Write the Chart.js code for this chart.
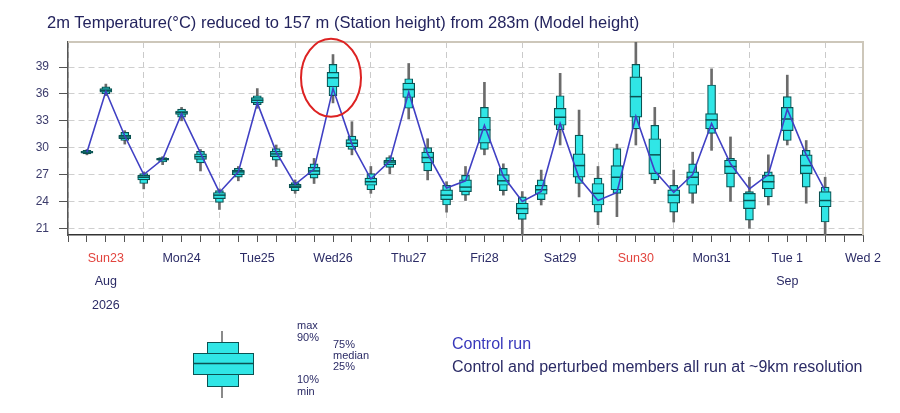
<!DOCTYPE html>
<html><head><meta charset="utf-8">
<script src="https://cdn.jsdelivr.net/npm/chart.js@4.4.1/dist/chart.umd.min.js"></script>
<style>
html,body{margin:0;padding:0;background:#fff;}
#wrap{position:relative;width:900px;height:413px;overflow:hidden;}
canvas{position:absolute;left:0;top:0;}
.t{position:absolute;font-family:"Liberation Sans",Arial,sans-serif;color:#2b2b66;white-space:nowrap;}
</style></head><body>
<div id="wrap">
<canvas id="c" width="900" height="413"></canvas>
<div class="t" id="title" style="left:47px;top:12px;font-size:16.5px;line-height:20px;color:#24245e"></div>
<div class="t" style="left:297px;top:319px;font-size:11px;line-height:12px">max<br>90%</div>
<div class="t" style="left:333px;top:339px;font-size:11px;line-height:11px">75%<br>median<br>25%</div>
<div class="t" style="left:297px;top:373px;font-size:11px;line-height:12px">10%<br>min</div>
<div class="t" style="left:452px;top:335px;font-size:16px;line-height:18px;color:#3838bb">Control run</div>
<div class="t" style="left:452px;top:358px;font-size:16px;line-height:18px;color:#2b2b66">Control and perturbed members all run at ~9km resolution</div>
</div>
<script>
// ---- data ----
const hours = [6,12,18,24,30,36,42,48,54,60,66,72,78,84,90,96,102,108,114,120,
               126,132,138,144,150,156,162,168,174,180,186,192,198,204,210,216,222,228,234,240];
const tMin = [29.2,35.8,30.4,25.4,28.1,33.0,27.4,23.1,26.3,34.4,27.9,24.9,26.0,35.0,29.2,24.9,27.1,33.2,26.4,22.8,
              24.1,29.2,24.7,20.2,23.6,30.3,24.5,21.4,22.3,30.3,26.0,21.7,23.8,29.7,24.0,21.0,23.6,30.3,23.8,20.2];
const tP10 = [29.3,36.0,30.8,26.0,28.4,33.4,28.3,23.9,26.7,34.8,28.6,25.2,26.6,35.8,29.8,25.3,27.8,34.4,27.4,23.6,
              24.7,29.8,25.2,22.0,24.2,32.0,26.0,22.8,24.9,32.1,26.4,22.8,24.9,31.6,25.6,21.9,24.5,30.8,25.6,21.7];
const tP25 = [29.4,36.2,31.0,26.4,28.6,33.7,28.7,24.3,27.0,35.0,29.0,25.5,27.0,36.8,30.1,25.8,28.1,35.6,28.3,24.2,
              25.1,30.5,25.8,22.6,24.8,32.5,26.7,23.6,25.3,33.4,27.1,23.8,25.8,32.1,27.1,23.2,25.4,31.9,27.1,23.4];
const tMed = [29.5,36.4,31.2,26.7,28.7,33.9,29.0,24.7,27.3,35.3,29.3,25.7,27.4,37.8,30.5,26.2,28.4,36.5,28.9,24.7,
              25.6,32.0,26.3,23.2,25.3,33.4,28.0,24.9,26.7,35.7,29.2,24.7,26.7,33.1,27.9,24.1,26.2,33.2,28.0,24.1];
const tP75 = [29.6,36.6,31.4,26.9,28.8,34.1,29.3,25.0,27.5,35.6,29.6,25.9,27.8,38.4,30.9,26.6,28.6,37.2,29.5,25.3,
              26.4,33.4,27.0,23.8,25.8,34.4,29.3,26.0,28.0,37.9,31.0,25.3,27.3,33.8,28.6,24.9,26.9,34.5,29.2,25.1];
const tP90 = [29.7,36.8,31.7,27.1,28.9,34.3,29.6,25.2,27.7,35.8,29.9,26.1,28.2,39.3,31.3,27.1,28.9,37.7,30.0,25.8,
              26.9,34.5,27.7,24.5,26.4,35.8,31.4,26.6,29.9,39.3,32.5,25.8,28.2,37.0,28.8,25.1,27.3,35.7,29.7,25.6];
const tMax = [29.8,37.1,31.9,27.3,29.0,34.5,29.8,25.4,27.9,36.6,30.3,26.4,28.8,40.4,32.9,27.9,29.1,39.4,31.0,26.2,
              27.9,37.3,28.2,25.1,27.5,38.3,34.2,27.9,30.4,41.8,34.5,27.5,29.5,38.8,31.2,26.7,29.2,38.1,30.8,26.7];
const control = [29.5,36.3,31.3,27.0,28.7,33.8,29.4,25.0,27.3,35.0,29.5,25.9,27.6,36.6,30.4,26.5,28.5,36.2,29.3,25.5,
                 26.3,32.5,26.8,24.0,25.1,32.7,26.6,24.1,25.0,33.5,27.4,25.0,27.0,32.7,28.2,25.4,27.0,34.3,29.2,25.2];
const yTicks = [21,24,27,30,33,36,39];
const dayLabels = ['Sun23','Mon24','Tue25','Wed26','Thu27','Fri28','Sat29','Sun30','Mon31','Tue 1','Wed 2'];
const sundayLabels = ['Sun23','Sun30'];
const monthLabels = [['Aug','2026'],['Sep']];
const monthLabelDays = [0, 9];
const highlightIndex = 13;   // circled box (Wed26 peak)
const titleText = '2m Temperature(\u00B0C) reduced to 157 m (Station height) from 283m (Model height)';
document.getElementById('title').textContent = titleText;

// ---- style ----
const FONT = '"Liberation Sans", Arial, sans-serif';
const NAVY = '#2b2b66';
const CYAN = '#30e6e6';
const TEAL = '#0b5252';

const rangeData = (lo, hi) => hours.map((h, i) => ({x: h, y: [lo[i], hi[i]]}));
const pointData = (v) => hours.map((h, i) => ({x: h, y: v[i]}));

const framePlugin = {
  id: 'frame',
  beforeDatasetsDraw(chart) {
    const {ctx, chartArea: a} = chart;
    ctx.save();
    ctx.strokeStyle = '#cdc7ba';
    ctx.lineWidth = 2;
    ctx.beginPath();
    ctx.moveTo(a.left, a.top); ctx.lineTo(a.right, a.top); ctx.lineTo(a.right, a.bottom);
    ctx.stroke();
    ctx.restore();
  },
  afterDraw(chart) {
    const ctx = chart.ctx;
    ctx.save();
    // red highlight ellipse around the circled box
    const xs = chart.scales.x, ys = chart.scales.y;
    const cx = xs.getPixelForValue(hours[highlightIndex]) - 2;
    const cy = ys.getPixelForValue((tMin[highlightIndex] + tMax[highlightIndex]) / 2) - 1;
    ctx.strokeStyle = '#dd2222'; ctx.lineWidth = 2;
    ctx.beginPath(); ctx.ellipse(cx, cy, 30, 39, 0, 0, Math.PI * 2); ctx.stroke();
    // key symbol of the box legend
    ctx.strokeStyle = '#8a8a8a'; ctx.lineWidth = 2;
    ctx.beginPath(); ctx.moveTo(222, 331); ctx.lineTo(222, 398); ctx.stroke();
    ctx.fillStyle = CYAN; ctx.strokeStyle = TEAL; ctx.lineWidth = 1;
    ctx.fillRect(207, 342, 31, 44); ctx.strokeRect(207.5, 342.5, 31, 44);
    ctx.fillRect(193, 353, 60, 21); ctx.strokeRect(193.5, 353.5, 60, 21);
    ctx.lineWidth = 1.5;
    ctx.beginPath(); ctx.moveTo(193, 363.5); ctx.lineTo(253, 363.5); ctx.stroke();
    ctx.restore();
  }
};

new Chart(document.getElementById('c'), {
  type: 'bar',
  data: {
    datasets: [
      {type: 'line', label: 'Control run', data: pointData(control), borderColor: '#4040c4',
       borderWidth: 1.6, pointRadius: 0, tension: 0, order: 0},
      {type: 'scatter', label: 'median', data: pointData(tMed), pointStyle: 'line', pointRadius: 6,
       borderColor: TEAL, borderWidth: 1.5, order: 1},
      {type: 'bar', label: '25-75%', data: rangeData(tP25, tP75), barThickness: 12, grouped: false,
       backgroundColor: CYAN, borderColor: TEAL, borderWidth: 1.2, borderSkipped: false, order: 2},
      {type: 'bar', label: '10-90%', data: rangeData(tP10, tP90), barThickness: 8, grouped: false,
       backgroundColor: CYAN, borderColor: TEAL, borderWidth: 1.2, borderSkipped: false, order: 3},
      {type: 'bar', label: 'min-max', data: rangeData(tMin, tMax), barThickness: 2, grouped: false,
       backgroundColor: '#6b6b6b', borderWidth: 0, order: 4}
    ]
  },
  options: {
    responsive: false,
    animation: false,
    devicePixelRatio: 1,
    layout: {padding: {left: 0, right: 37, top: 42, bottom: 0}},
    plugins: {
      legend: {display: false},
      tooltip: {enabled: false},
      title: {display: false}
    },
    scales: {
      x: {
        type: 'linear', position: 'bottom', min: 0, max: 252, offset: false, weight: 0,
        afterBuildTicks: s => { const t = []; for (let h = 0; h <= 252; h += 6) t.push({value: h}); s.ticks = t; },
        afterFit: s => { s.height = 34; },
        grid: {offset: false, lineWidth: 1, tickLength: 7, tickColor: '#555',
               color: c => (c.tick && c.tick.value % 24 === 0) ? '#cacaca' : 'rgba(0,0,0,0)'},
        border: {color: '#333', width: 1.5, dash: [6, 4]},
        ticks: {autoSkip: false, maxRotation: 0, minRotation: 0, padding: 9,
                font: {family: FONT, size: 12.5},
                color: c => sundayLabels.includes(dayLabels[(c.tick.value - 12) / 24]) ? '#e2443e' : NAVY,
                callback: v => (v % 24 === 12) ? dayLabels[(v - 12) / 24] : ''}
      },
      x2: {
        type: 'linear', position: 'bottom', min: 0, max: 252, offset: false, weight: 1,
        afterBuildTicks: s => { s.ticks = monthLabelDays.map(d => ({value: 12 + 24 * d})); },
        afterFit: s => { s.height = 144; },
        grid: {display: false, drawTicks: false},
        border: {display: false},
        ticks: {autoSkip: false, maxRotation: 0, minRotation: 0, padding: 1,
                font: {family: FONT, size: 12.5, lineHeight: '23.5px'}, color: NAVY,
                callback: v => monthLabels[monthLabelDays.indexOf((v - 12) / 24)]}
      },
      y: {
        type: 'linear', min: 20.25, max: 41.8,
        afterBuildTicks: s => { s.ticks = yTicks.map(v => ({value: v})); },
        afterFit: s => { s.width = 68; },
        grid: {color: '#cfcfcf', lineWidth: 1, tickLength: 9, tickColor: '#555'},
        border: {color: '#555', width: 1.5, dash: [6, 4]},
        ticks: {padding: 10, font: {family: FONT, size: 12}, color: '#3b3b6b'}
      }
    }
  },
  plugins: [framePlugin]
});
</script>
</body></html>
